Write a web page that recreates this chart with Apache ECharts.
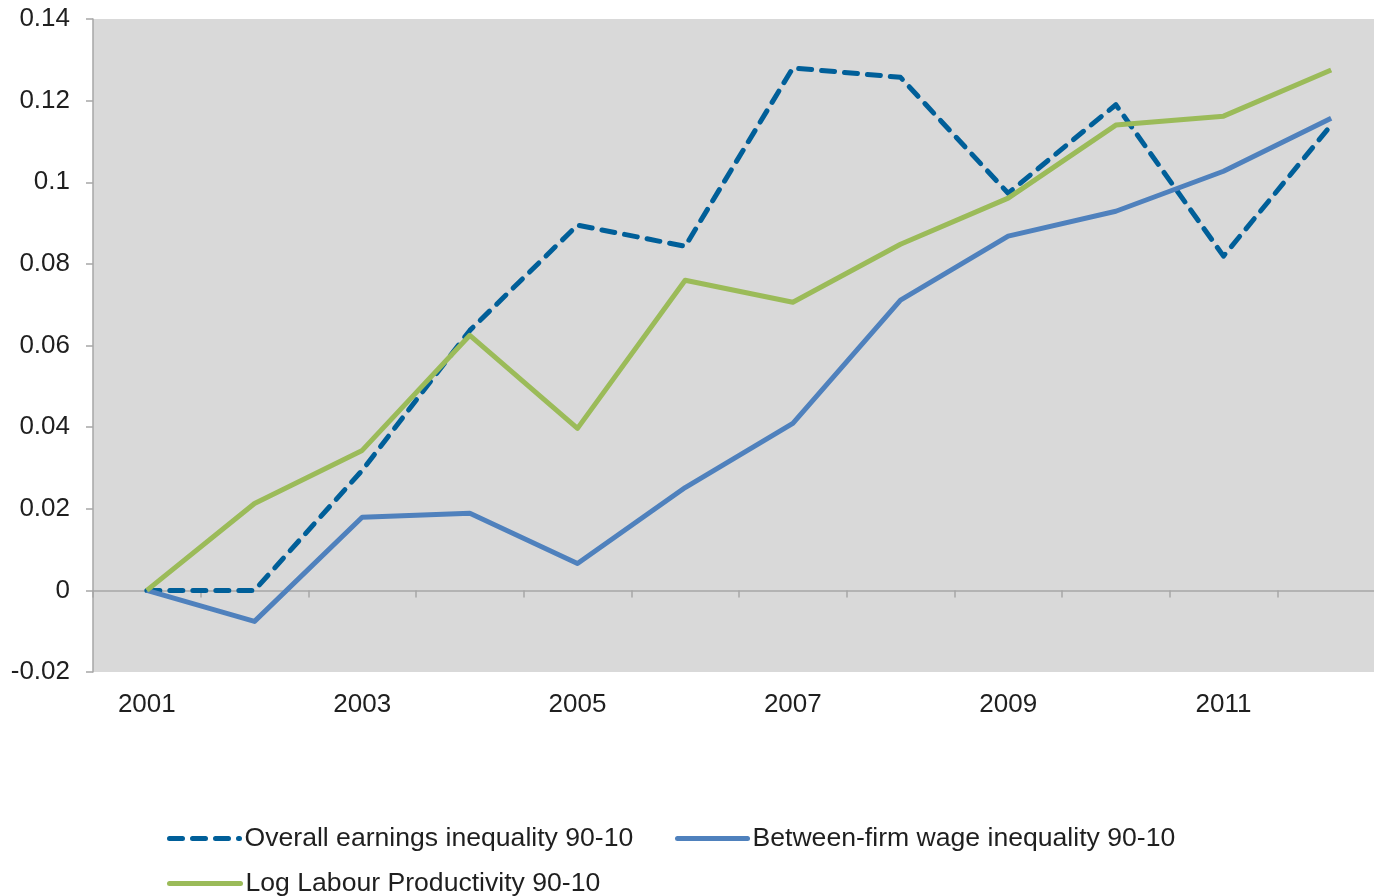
<!DOCTYPE html>
<html>
<head>
<meta charset="utf-8">
<script src="https://cdn.jsdelivr.net/npm/echarts@6/dist/echarts.min.js"></script>
<style>
html,body{margin:0;padding:0;background:#fff;}
#chart{width:1374px;height:896px;}
</style>
</head>
<body>
<div id="chart"></div>
<script>
const years = ['2001','2002','2003','2004','2005','2006','2007','2008','2009','2010','2011','2012'];
const overallName = 'Overall earnings inequality 90-10';
const betweenName = 'Between-firm wage inequality 90-10';
const productivityName = 'Log Labour Productivity 90-10';
const overallValues = [0, 0, 0.0294, 0.0637, 0.0895, 0.0843, 0.1280, 0.1257, 0.0973, 0.1190, 0.0819, 0.1140];
const betweenValues = [0, -0.0076, 0.0179, 0.0189, 0.0066, 0.0252, 0.0409, 0.0711, 0.0868, 0.0929, 0.1027, 0.1157];
const productivityValues = [0, 0.0213, 0.0343, 0.0625, 0.0397, 0.0760, 0.0706, 0.0848, 0.0961, 0.1140, 0.1162, 0.1275];
const yTickLabels = {'-0.02':'-0.02','0':'0','0.02':'0.02','0.04':'0.04','0.06':'0.06','0.08':'0.08','0.1':'0.1','0.12':'0.12','0.14':'0.14'};

const FONT = "'Liberation Sans', Arial, sans-serif";
const TEXT = '#1f1f1f';
const AXIS = '#a6a6a6';
const C_OVERALL = '#005f99';
const C_BETWEEN = '#4f81bd';
const C_PROD = '#9bbb59';
const DASH = [13, 10];

const chart = echarts.init(document.getElementById('chart'), null, {renderer:'canvas'});
const legendText = {fontSize:26.6, fontFamily:FONT, color:TEXT};
function legendOf(name, left, top, w, color, dashed){
  return {
    data:[{name:name, itemStyle:{opacity:0}}],
    left:left, top:top, itemWidth:w, itemHeight:14, padding:0,
    textStyle:legendText,
    itemStyle:{opacity:0},
    lineStyle:{width:5, color:color, type: dashed ? DASH : 'solid', cap:'round'}
  };
}
chart.setOption({
  animation:false,
  backgroundColor:'#ffffff',
  grid:{left:93, top:19, width:1292, height:653, show:true, backgroundColor:'#d9d9d9', borderWidth:0, containLabel:false, outerBoundsMode:'none'},
  legend:[
    legendOf(overallName, 167, 825, 70, C_OVERALL, true),
    legendOf(betweenName, 675, 825, 70, C_BETWEEN, false),
    legendOf(productivityName, 167, 870, 71, C_PROD, false)
  ],
  xAxis:{
    type:'category', data:years, boundaryGap:true,
    axisLine:{onZero:true, lineStyle:{color:AXIS, width:1.5}},
    axisTick:{show:true, interval:0, length:7, lineStyle:{color:AXIS, width:1.5}},
    axisLabel:{interval:1, margin:20, fontSize:26, fontFamily:FONT, color:TEXT},
    splitLine:{show:false}
  },
  yAxis:{
    type:'value', min:-0.02, max:0.14, interval:0.02,
    axisLine:{show:true, lineStyle:{color:AXIS, width:1.5}},
    axisTick:{show:true, length:7, lineStyle:{color:AXIS, width:1.5}},
    axisLabel:{margin:23, fontSize:26, fontFamily:FONT, color:TEXT,
      formatter:function(v){const k = String(+v.toFixed(2)); return yTickLabels[k] !== undefined ? yTickLabels[k] : k;}},
    splitLine:{show:false}
  },
  series:[
    {name:overallName, type:'line', data:overallValues, symbol:'none', color:C_OVERALL,
      lineStyle:{color:C_OVERALL, width:5, type:DASH, cap:'round', join:'round'}},
    {name:betweenName, type:'line', data:betweenValues, symbol:'none', color:C_BETWEEN,
      lineStyle:{color:C_BETWEEN, width:5, join:'round'}},
    {name:productivityName, type:'line', data:productivityValues, symbol:'none', color:C_PROD,
      lineStyle:{color:C_PROD, width:5, join:'round'}}
  ]
});
</script>
</body>
</html>
